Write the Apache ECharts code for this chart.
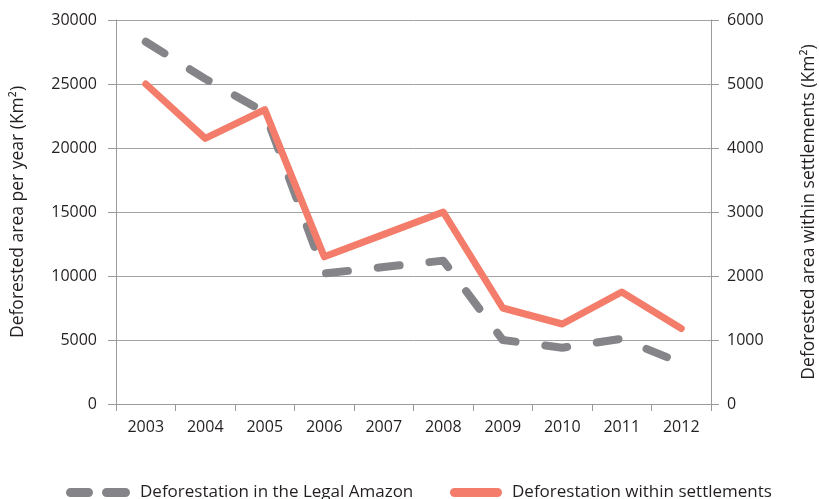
<!DOCTYPE html>
<html><head><meta charset="utf-8">
<script src="https://cdn.jsdelivr.net/npm/echarts@6/dist/echarts.min.js"></script>
<style>html,body{margin:0;padding:0;background:#fff}#c{width:819px;height:499px}</style>
</head><body><div id="c"></div>
<script>
const years = ['2003','2004','2005','2006','2007','2008','2009','2010','2011','2012'];
const legalAmazon = [28300, 25400, 22800, 10200, 10700, 11200, 5000, 4400, 5100, 3200];
const settlements = [5000, 4150, 4600, 2300, 2650, 3000, 1500, 1250, 1750, 1180];
const leftTicks = [0, 5000, 10000, 15000, 20000, 25000, 30000];
const rightTicks = [0, 1000, 2000, 3000, 4000, 5000, 6000];

const FONT = '"Open Sans", "Noto Sans", sans-serif';
const TXT = '#231f20';
const chart = echarts.init(document.getElementById('c'), null, {renderer: 'canvas'});
const axisLine = {show: true, lineStyle: {color: '#9a9a9a', width: 1}};
const legendText = {fontFamily: FONT, fontSize: 17, lineHeight: 14, color: TXT, padding: [0,0,0,5]};
chart.setOption({
  animation: false,
  grid: {left: 116, right: 108, top: 20, bottom: 95, containLabel: false, outerBoundsMode: 'none'},
  legend: [
    {data: ['Deforestation in the Legal Amazon'], left: 66, top: 484, padding: 0, itemWidth: 64, itemHeight: 9, itemGap: 0,
     icon: 'path://M4.5,0 H22.5 A4.5,4.5 0 0 1 22.5,9 H4.5 A4.5,4.5 0 0 1 4.5,0 Z M40.5,0 H59.5 A4.5,4.5 0 0 1 59.5,9 H40.5 A4.5,4.5 0 0 1 40.5,0 Z',
     textStyle: legendText},
    {data: ['Deforestation within settlements'], left: 450, top: 484, padding: 0, itemWidth: 52, itemHeight: 9,
     icon: 'path://M4.5,0 H47.5 A4.5,4.5 0 0 1 47.5,9 H4.5 A4.5,4.5 0 0 1 4.5,0 Z',
     textStyle: legendText}
  ],
  xAxis: {
    type: 'category', data: years, boundaryGap: true,
    axisLine: axisLine,
    axisTick: {show: true, length: 7, lineStyle: {color: '#9a9a9a'}},
    axisLabel: {fontFamily: FONT, fontSize: 16, color: TXT, margin: 15}
  },
  yAxis: [
    {type: 'value', min: 0, max: 30000, interval: 5000, position: 'left',
     name: 'Deforested area per year (Km²)', nameLocation: 'middle', nameGap: 89, nameRotate: 90,
     nameTextStyle: {fontFamily: FONT, fontSize: 17.5, color: TXT},
     axisLine: axisLine, axisTick: {show: true, length: 8, lineStyle: {color: '#9a9a9a'}},
     axisLabel: {fontFamily: FONT, fontSize: 16, color: TXT, margin: 19, formatter: v => String(v)},
     splitLine: {show: true, lineStyle: {color: '#a3a3a3', width: 1}}},
    {type: 'value', min: 0, max: 6000, interval: 1000, position: 'right',
     name: 'Deforested area within settlements (Km²)', nameLocation: 'middle', nameGap: 89, nameRotate: 90,
     nameTextStyle: {fontFamily: FONT, fontSize: 17.5, color: TXT},
     axisLine: axisLine, axisTick: {show: true, length: 8, lineStyle: {color: '#9a9a9a'}},
     axisLabel: {fontFamily: FONT, fontSize: 16, color: TXT, margin: 16, formatter: v => String(v)},
     splitLine: {show: false}}
  ],
  series: [
    {name: 'Deforestation in the Legal Amazon', type: 'line', yAxisIndex: 0, data: legalAmazon,
     symbol: 'none', z: 2, color: '#858589',
     lineStyle: {color: '#858589', width: 8, type: [22, 30], cap: 'round', join: 'round'}},
    {name: 'Deforestation within settlements', type: 'line', yAxisIndex: 1, data: settlements,
     symbol: 'none', z: 3, color: '#f47c6a',
     lineStyle: {color: '#f47c6a', width: 7, cap: 'round', join: 'round'}}
  ]
});
</script></body></html>
